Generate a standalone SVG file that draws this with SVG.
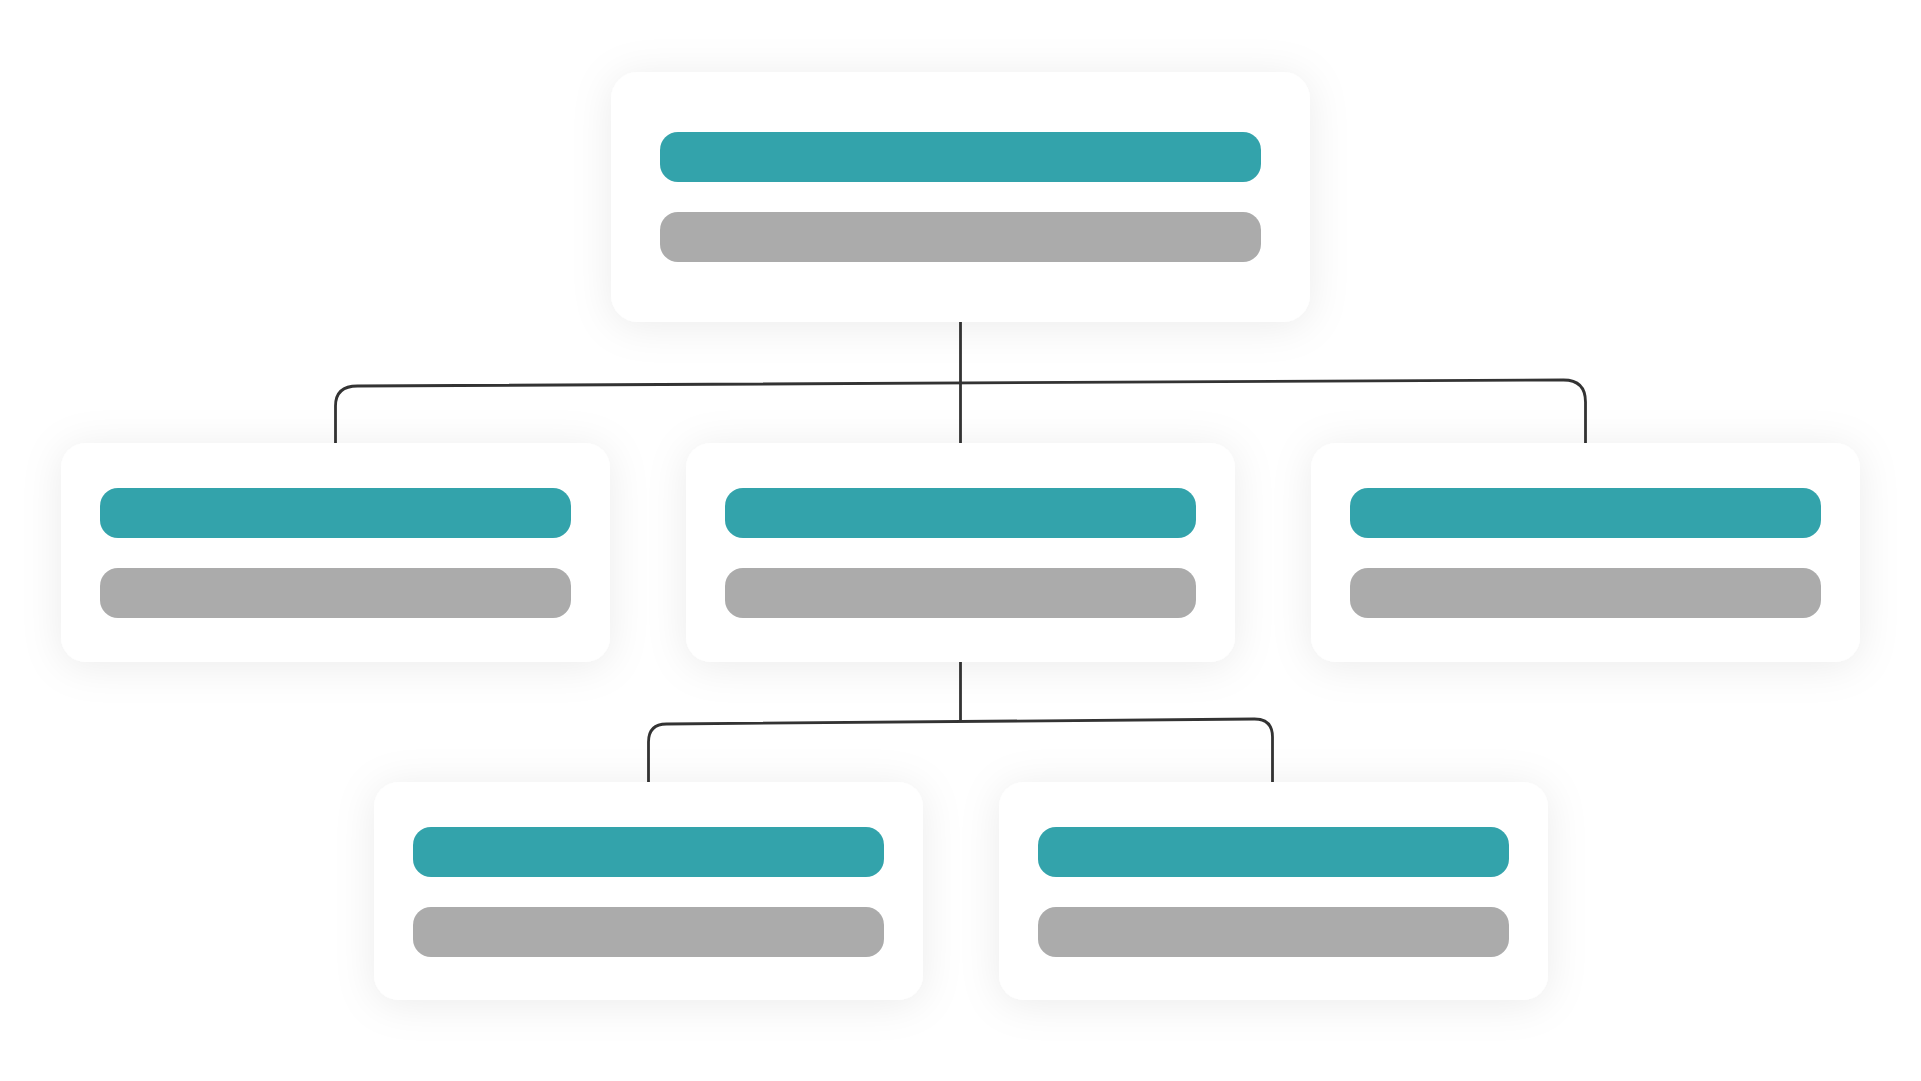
<svg xmlns="http://www.w3.org/2000/svg" width="1921" height="1081" viewBox="0 0 1921 1081">
  <style>
    .card { fill: #ffffff; filter: url(#shadow); }
    .title { fill: #33a3ab; }
    .sub { fill: #ababab; }
    .conn { fill: none; stroke: #333333; stroke-width: 2.8; stroke-linejoin: round; }
  </style>
  <defs>
    <filter id="shadow" x="-25%" y="-40%" width="150%" height="180%">
      <feDropShadow dx="0" dy="4" stdDeviation="20" flood-color="#000000" flood-opacity="0.08"/>
    </filter>
  </defs>
  <rect width="1921" height="1081" fill="#ffffff"/>

  <g id="connectors">
    <path class="conn" d="M960.5 322 V443"/>
    <path class="conn" d="M335.5 443 V406 Q335.5 386 357.5 386 L1563.5 380 Q1585.5 380 1585.5 402 V443"/>
    <path class="conn" d="M960.5 662 V722"/>
    <path class="conn" d="M648.5 782 V742 Q648.5 724 666.5 724 L1254.5 719 Q1272.5 719 1272.5 737 V782"/>
  </g>

  <g id="node-root">
    <rect class="card" x="611" y="72" width="699" height="250" rx="27"/>
    <rect class="title" x="660" y="132" width="601" height="50" rx="18"/>
    <rect class="sub" x="660" y="212" width="601" height="50" rx="18"/>
  </g>

  <g id="node-left">
    <rect class="card" x="61" y="443" width="549" height="219" rx="25"/>
    <rect class="title" x="100" y="488" width="471" height="50" rx="18"/>
    <rect class="sub" x="100" y="568" width="471" height="50" rx="18"/>
  </g>

  <g id="node-middle">
    <rect class="card" x="686" y="443" width="549" height="219" rx="25"/>
    <rect class="title" x="725" y="488" width="471" height="50" rx="18"/>
    <rect class="sub" x="725" y="568" width="471" height="50" rx="18"/>
  </g>

  <g id="node-right">
    <rect class="card" x="1311" y="443" width="549" height="219" rx="25"/>
    <rect class="title" x="1350" y="488" width="471" height="50" rx="18"/>
    <rect class="sub" x="1350" y="568" width="471" height="50" rx="18"/>
  </g>

  <g id="node-bottom-left">
    <rect class="card" x="374" y="782" width="549" height="218" rx="25"/>
    <rect class="title" x="413" y="827" width="471" height="50" rx="18"/>
    <rect class="sub" x="413" y="907" width="471" height="50" rx="18"/>
  </g>

  <g id="node-bottom-right">
    <rect class="card" x="999" y="782" width="549" height="218" rx="25"/>
    <rect class="title" x="1038" y="827" width="471" height="50" rx="18"/>
    <rect class="sub" x="1038" y="907" width="471" height="50" rx="18"/>
  </g>
</svg>
